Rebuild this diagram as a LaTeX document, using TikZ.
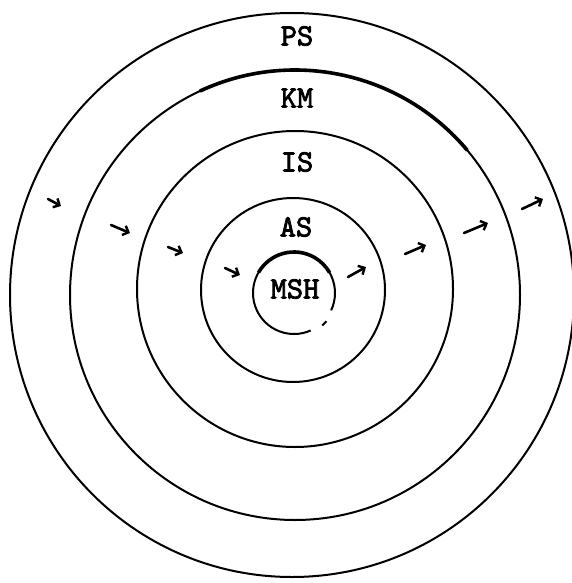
\documentclass[tikz,border=0pt]{standalone}
\usepackage{fontspec}
\newfontfamily\printfont{lmmono10-regular.otf}[FakeBold=2.5]
\usetikzlibrary{arrows.meta}
\tikzset{
  ring/.style={draw=black,line width=2pt},
  thickring/.style={draw=black,line width=3.6pt},
  layer/.style={font=\printfont\fontsize{31}{31}\selectfont,inner sep=0pt},
  flow/.style={-{Straight Barb[length=5pt,width=10pt,line width=2.4pt]},line width=2.6pt,line cap=round},
}

\begin{document}
\begin{tikzpicture}[x=1pt,y=-1pt]
  \useasboundingbox (0,0) rectangle (572,583);

  % Rings
  \draw[ring] (292,295) circle[radius=282];
  \draw[ring] (295,295) circle[radius=225];
  \draw[thickring] (295,295) ++(-115:225) arc[start angle=-115,end angle=-40,radius=225];
  \draw[ring] (295,289) circle[radius=158];
  \draw[ring] (293,290) circle[radius=92];
  \draw[ring] (294,293) ++(66:41) arc[start angle=66,end angle=385,radius=41];
  \draw[ring] (294,293) ++(41:43) arc[start angle=41,end angle=49,radius=43];
  \draw[thickring] (294,293) ++(-150:41) arc[start angle=-150,end angle=-30,radius=41];

  % Labels
  \node[layer] (ps)  at (297,36)  {PS};
  \node[layer] (km)  at (297,98)  {KM};
  \node[layer] (is)  at (297,162) {IS};
  \node[layer] (as)  at (296,227) {AS};
  \node[layer] (msh) at (295,289) {MSH};

  % Arrows
  \foreach \tx/\ty/\hx/\hy [count=\k] in {48/199/61/206, 111/225/130/233,
      168/247/183/253, 225/268/240/275, 348/277/366/267, 405/254/426/245,
      464/233/488/223, 522/209/543/199}{
    \coordinate (tail\k) at (\tx,\ty);
    \coordinate (tip\k) at (\hx,\hy);
    \draw[flow] (tail\k) -- (tip\k);
  }
\end{tikzpicture}
\end{document}
